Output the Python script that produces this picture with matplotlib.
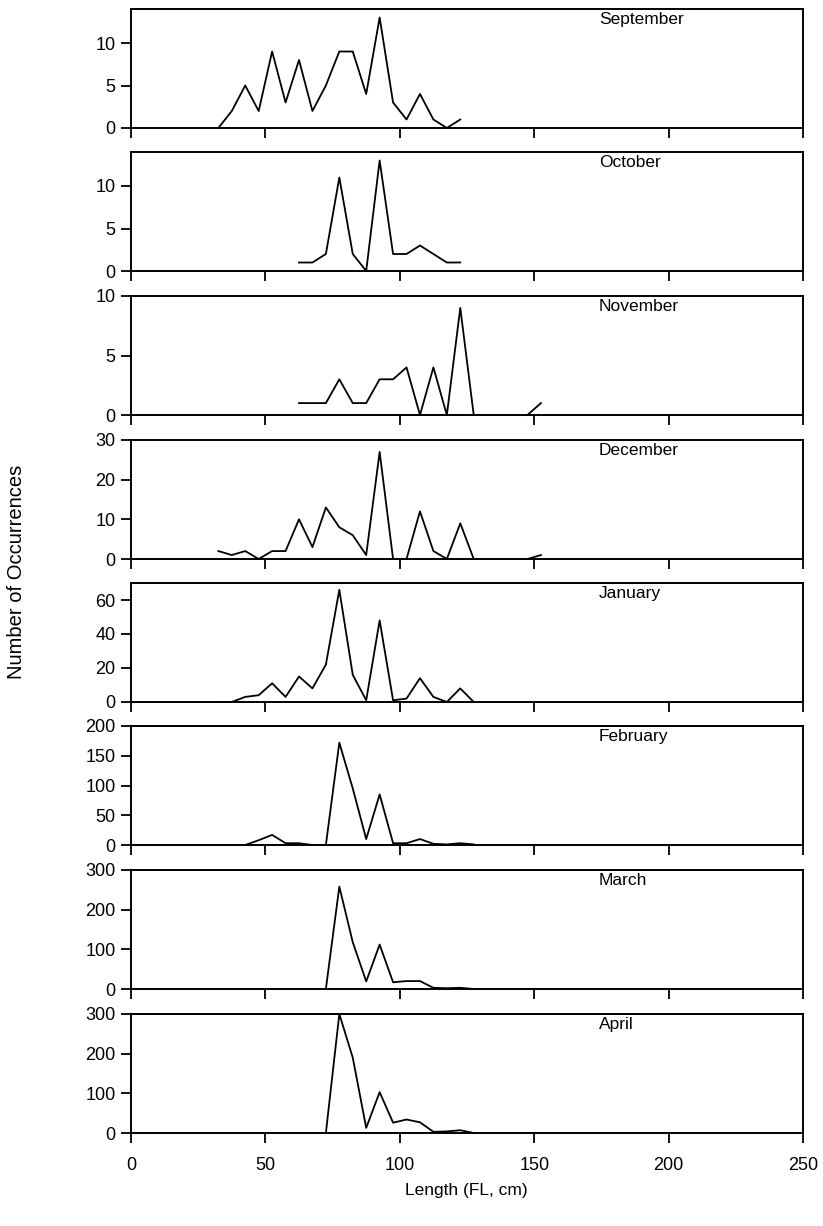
import numpy as np
import matplotlib
matplotlib.use("Agg")
import matplotlib.pyplot as plt

plt.rcParams['font.family'] = ['Liberation Sans', 'DejaVu Sans']

nan = np.nan
lengths = [32.5, 37.5, 42.5, 47.5, 52.5, 57.5, 62.5, 67.5, 72.5, 77.5, 82.5, 87.5,
           92.5, 97.5, 102.5, 107.5, 112.5, 117.5, 122.5, 127.5, 132.5, 137.5,
           142.5, 147.5, 152.5]

september = [0, 2, 5, 2, 9, 3, 8, 2, 5, 9, 9, 4, 13, 3, 1, 4, 1, 0, 1, nan, nan, nan, nan, nan, nan]
october = [nan, nan, nan, nan, nan, nan, 1, 1, 2, 11, 2, 0, 13, 2, 2, 3, 2, 1, 1, nan, nan, nan, nan, nan, nan]
november = [nan, nan, nan, nan, nan, nan, 1, 1, 1, 3, 1, 1, 3, 3, 4, 0, 4, 0, 9, 0, nan, nan, nan, 0, 1]
december = [2, 1, 2, 0, 2, 2, 10, 3, 13, 8, 6, 1, 27, 0, 0, 12, 2, 0, 9, 0, nan, nan, nan, 0, 1]
january = [0, 0, 3, 4, 11, 3, 15, 8, 22, 66, 16, 1, 48, 1, 2, 14, 3, 0, 8, 0, nan, nan, nan, nan, nan]
february = [nan, nan, 0, 8, 17, 3, 3, 0, 0, 172, 95, 10, 85, 3, 3, 10, 2, 1, 3, 1, nan, nan, nan, nan, nan]
march = [nan, nan, nan, nan, nan, nan, nan, nan, 0, 258, 118, 19, 112, 17, 20, 20, 3, 2, 3, 0, nan, nan, nan, nan, nan]
april = [nan, nan, nan, nan, nan, nan, nan, nan, 0, 300, 190, 13, 103, 26, 34, 27, 3, 4, 7, 0, nan, nan, nan, nan, nan]

months = ["September", "October", "November", "December", "January", "February", "March", "April"]
series = [september, october, november, december, january, february, march, april]
ymax = [14, 14, 10, 30, 70, 200, 300, 300]
yticks = [[0, 5, 10], [0, 5, 10], [0, 5, 10], [0, 10, 20, 30], [0, 20, 40, 60],
          [0, 50, 100, 150, 200], [0, 100, 200, 300], [0, 100, 200, 300]]
xticks = [0, 50, 100, 150, 200, 250]

W, H = 823, 1226
fig = plt.figure(figsize=(W / 100, H / 100), dpi=100)
left_px, right_px = 131, 803
bottoms_px = [128, 271, 415, 559, 702, 845, 989, 1133]
panel_h = 119

for i, (name, vals, ym, yt) in enumerate(zip(months, series, ymax, yticks)):
    b = bottoms_px[i]
    ax = fig.add_axes([left_px / W, 1 - b / H, (right_px - left_px) / W, panel_h / H])
    ax.plot(lengths, vals, color='black', lw=1.3, clip_on=False)
    ax.set_xlim(0, 250)
    ax.set_ylim(0, ym)
    ax.set_yticks(yt)
    ax.set_xticks(xticks)
    for s in ax.spines.values():
        s.set_linewidth(1.4)
        s.set_color('black')
    ax.tick_params(axis='both', direction='out', length=7, width=1.3, labelsize=13, pad=4)
    if i < len(months) - 1:
        ax.tick_params(axis='x', labelbottom=False)
    else:
        ax.tick_params(axis='x', pad=10)
    ax.text(174, 0.915, name, transform=ax.get_xaxis_transform(), fontsize=12.5,
            ha='left', va='center')

fig.text(466 / W, 1 - 1190 / H, "Length (FL, cm)", ha='center', va='center', fontsize=12.5)
fig.text(17 / W, 1 - 572 / H, "Number of Occurrences", ha='center', va='center',
         rotation=90, fontsize=14.5)

fig.savefig("out.png", dpi=100)
